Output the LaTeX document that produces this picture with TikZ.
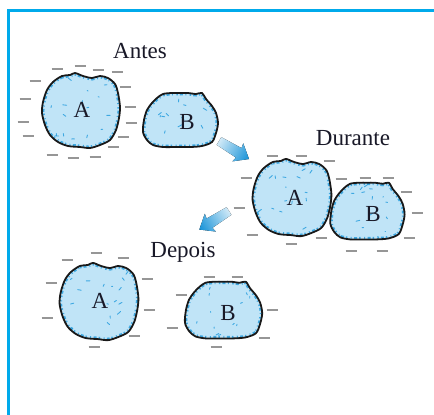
\documentclass[tikz,border=0pt]{standalone}
\usepackage{fontspec}
\setmainfont{Liberation Serif}
\definecolor{framecol}{RGB}{0,170,235}
\definecolor{blobcol}{RGB}{192,228,247}
\definecolor{speckcol}{RGB}{40,158,222}
\definecolor{dashcol}{RGB}{150,150,150}
\definecolor{arrowcol}{RGB}{20,145,215}
\definecolor{inkcol}{RGB}{25,25,40}

% outline of a grain of type A (roughly square, bumpy top)
\newcommand\shapeA{plot[smooth cycle, tension=0.5] coordinates {(-27,-28) (-18,-34) (-10,-35) (-5,-37) (3,-34) (12,-32) (20,-34) (28,-32) (35,-26) (38,-17) (40,-3) (39,8) (36,20) (30,30) (20,35) (10,38) (0,37) (-12,36) (-22,32) (-30,25) (-35,15) (-38,3) (-37,-8) (-33,-20)}}
% outline of a grain of type B (wider, flat bottom)
\newcommand\shapeB{plot[smooth cycle, tension=0.5] coordinates {(-21,-21) (-15,-25) (-6,-26) (2,-26) (10,-26) (18,-25) (24,-26) (28,-20) (34,-13) (38,-6) (40,4) (38,14) (34,23) (24,27) (12,28) (-1,28) (-15,28) (-25,26) (-31,21) (-35,13) (-34,1) (-31,-9) (-26,-16)}}

\tikzset{
  frameline/.style={draw=framecol, line width=3pt},
  blobfill/.style={fill=blobcol},
  blobline/.style={draw=black!90, line width=1.8pt, line join=round},
  speckedge/.style={draw=speckcol, line width=5pt, opacity=.85,
    dash pattern=on 1.5pt off 2pt on 3pt off 2.5pt on 1pt off 3.5pt},
  speck/.style={draw=speckcol, line width=.9pt, opacity=.85, line cap=round},
  dashmark/.style={draw=dashcol, line width=1.7pt},
  lbl/.style={text=inkcol, font=\fontsize{23}{26}\selectfont, inner sep=0pt},
  ttl/.style={text=inkcol, font=\fontsize{23}{26}\selectfont, inner sep=0pt, anchor=base},
}

% #1 name, #2 outline, #3/#4 centre, #5/#6 scale, #7 letter, #8/#9 letter position
\newcommand\blob[9]{%
  \begin{scope}[shift={(#3,#4)}, xscale=#5, yscale=#6]
    \fill[blobfill] #2;
    \begin{scope}
      \clip #2;
      \draw[speckedge] #2;
      \foreach \k in {1,...,16}{\draw[speck] ({rand*30},{rand*30}) -- ++({rand*4},{rand*3});}
    \end{scope}
    \draw[blobline] #2;
  \end{scope}
  \node[lbl] (#1) at (#8,#9) {#7};}

% shaded fat arrow: #1 tail point, #2 direction angle, #3 name
\newcommand\fatarrow[3]{%
  \coordinate (#3) at #1;
  \fill[transform canvas={shift={#1},rotate=#2}, left color=arrowcol!20, right color=arrowcol]
    (0,-4.5) -- (23,-5.5) -- (22,-10.5) -- (35,0) -- (22,10.5) -- (23,5.5) -- (0,4.5) -- cycle;}

\begin{document}
\begin{tikzpicture}[x=1pt,y=-1pt]
\pgfmathsetseed{17}
\useasboundingbox (0,0) rectangle (434,415);
\fill[white] (0,0) rectangle (434,415);

% frame
\draw[frameline] (8,415) -- (8,10) -- (434,10);

% titles
\node[ttl] (antes) at (140,58) {Antes};
\node[ttl] (durante) at (353,145) {Durante};
\node[ttl] (depois) at (183,257) {Depois};

% charge marks
\foreach \x/\y in {57/69,80/66,98/70,117/72,35/81,125/87,25/99,130/107,23/122,131/123,28/136,123/137,113/147,52/155,73/158,95/157,
  272/156,301/156,329/161,246/178,341/179,365/178,388/178,406/192,239/208,417/213,252/235,321/238,409/238,291/244,351/251,382/251,
  67/260,96/253,123/258,51/283,147/279,47/318,149/310,134/336,94/347,209/277,237/277,181/295,172/328,272/310,264/338,216/347}
  \draw[dashmark] ({\x-5.5},\y) -- ({\x+5.5},\y);

% grains
\blob{a1}{\shapeA}{80}{110}{1.0}{1.0}{A}{82}{110}
\blob{b1}{\shapeB}{178}{119}{1.0}{1.0}{B}{187}{122}
\blob{a2}{\shapeA}{291}{197}{1.01}{1.03}{A}{295}{198}
\blob{b2}{\shapeB}{365}{210}{0.99}{1.05}{B}{373}{214}
\blob{a3}{\shapeA}{98}{301}{1.01}{1.03}{A}{100}{301}
\blob{b3}{\shapeB}{221}{309}{1.03}{1.05}{B}{228}{313}

% arrows between stages
\fatarrow{(219,141)}{-31}{arr1}
\fatarrow{(229,211)}{-148}{arr2}
\end{tikzpicture}
\end{document}
